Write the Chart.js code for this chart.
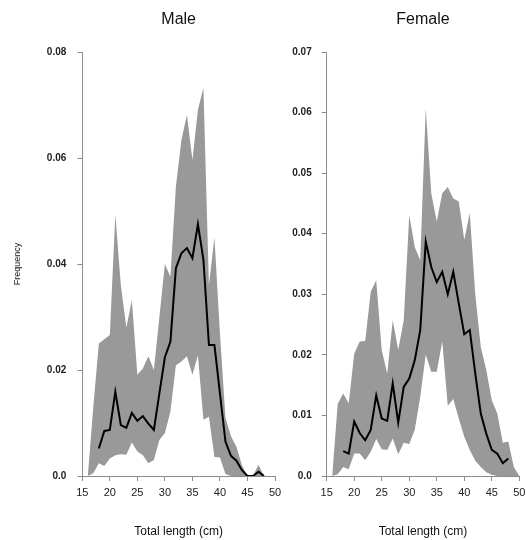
<!DOCTYPE html>
<html>
<head>
<meta charset="utf-8">
<script src="https://cdn.jsdelivr.net/npm/chart.js"></script>
<style>
  body { margin: 0; width: 526px; height: 540px; overflow: hidden; background: #fff; position: relative; }
  canvas { position: absolute; top: 0; }
  #maleChart { left: 0; }
  #femaleChart { left: 240px; }
</style>
</head>
<body>
<canvas id="maleChart" width="290" height="540"></canvas>
<canvas id="femaleChart" width="300" height="540"></canvas>
<script>
// total length (cm) for the shaded band and the mean line
const maleBandLen = [16, 17, 18, 19, 20, 21, 22, 23, 24, 25, 26, 27, 28, 29, 30, 31, 32,
    33, 34, 35, 36, 37, 38, 39, 40, 41, 42, 43, 44, 45, 46, 47, 48, 49];
const maleUpper = [0, 0.013, 0.025, 0.0258, 0.0266, 0.0494, 0.036, 0.028, 0.0332, 0.0191,
    0.0203, 0.0226, 0.020, 0.030, 0.040, 0.0376, 0.0546, 0.0634, 0.0681, 0.0596, 0.0691,
    0.0732, 0.036, 0.045, 0.027, 0.011, 0.0075, 0.0055, 0.002, 0, 0, 0.0021, 0, 0];
const maleLower = [0, 0.0005, 0.0024, 0.0019, 0.0033, 0.0039, 0.0041, 0.004, 0.0063, 0.0046,
    0.0039, 0.0024, 0.003, 0.0068, 0.0081, 0.0121, 0.0209, 0.0216, 0.0226, 0.0191, 0.0228,
    0.0106, 0.0112, 0.0036, 0.0035, 0.0004, 0, 0, 0, 0, 0, 0, 0, 0];
const maleMeanLen = [18, 19, 20, 21, 22, 23, 24, 25, 26, 27, 28, 29, 30, 31, 32, 33, 34,
    35, 36, 37, 38, 39, 40, 41, 42, 43, 44, 45, 46, 47, 48];
const maleMean = [0.0052, 0.0085, 0.0087, 0.0159, 0.0096, 0.0091, 0.0119, 0.0104, 0.0113,
    0.0099, 0.0087, 0.0156, 0.0224, 0.0253, 0.0392, 0.0420, 0.0430, 0.0411, 0.0475, 0.0408,
    0.0247, 0.0247, 0.0156, 0.0065, 0.0038, 0.0029, 0.0011, 0, 0, 0.0008, 0];

const femaleBandLen = [16, 17, 18, 19, 20, 21, 22, 23, 24, 25, 26, 27, 28, 29, 30, 31, 32,
    33, 34, 35, 36, 37, 38, 39, 40, 41, 42, 43, 44, 45, 46, 47, 48, 49, 50];
const femaleUpper = [0, 0.0119, 0.0136, 0.012, 0.0202, 0.0222, 0.0223, 0.0304, 0.0323,
    0.0208, 0.0169, 0.0257, 0.0208, 0.0257, 0.0431, 0.0378, 0.0356, 0.0607, 0.0467, 0.042,
    0.0467, 0.0477, 0.0458, 0.0453, 0.039, 0.0434, 0.030, 0.0213, 0.0175, 0.0125, 0.0103,
    0.0055, 0.0057, 0.0015, 0];
const femaleLower = [0, 0.0003, 0.0015, 0.0011, 0.0037, 0.0037, 0.0026, 0.004, 0.0061,
    0.0044, 0.0043, 0.0062, 0.0036, 0.0055, 0.0053, 0.0076, 0.0131, 0.020, 0.0172, 0.0172,
    0.0222, 0.0116, 0.0127, 0.0095, 0.0065, 0.0043, 0.0025, 0.0015, 0.0006, 0.0002, 0, 0,
    0, 0, 0];
const femaleMeanLen = [18, 19, 20, 21, 22, 23, 24, 25, 26, 27, 28, 29, 30, 31, 32, 33, 34,
    35, 36, 37, 38, 39, 40, 41, 42, 43, 44, 45, 46, 47, 48];
const femaleMean = [0.0041, 0.0037, 0.0090, 0.0071, 0.0059, 0.0076, 0.0133, 0.0095, 0.0091,
    0.0153, 0.0088, 0.0147, 0.0161, 0.0191, 0.0241, 0.0387, 0.0345, 0.0320, 0.0337, 0.0300,
    0.0337, 0.0285, 0.0234, 0.0241, 0.0169, 0.0103, 0.0070, 0.0043, 0.0037, 0.0021, 0.0029];

const xTicks = [15, 20, 25, 30, 35, 40, 45, 50];

const FONT = 'Liberation Sans, Arial, sans-serif';
const AXIS_GREY = '#8c8c8c';

function toPoints(xs, ys) {
    return xs.map((x, i) => ({ x: x, y: ys[i] }));
}

function createPanel(p) {
    const ctx = document.getElementById(p.canvasId).getContext('2d');
    new Chart(ctx, {
        type: 'line',
        data: {
            datasets: [
                {
                    data: toPoints(p.meanLen, p.mean),
                    borderColor: '#000',
                    borderWidth: 2,
                    pointRadius: 0,
                    fill: false,
                    tension: 0,
                },
                {
                    data: toPoints(p.bandLen, p.upper),
                    borderWidth: 0,
                    borderColor: 'rgba(0,0,0,0)',
                    backgroundColor: '#999999',
                    pointRadius: 0,
                    fill: '+1',
                    tension: 0,
                },
                {
                    data: toPoints(p.bandLen, p.lower),
                    borderWidth: 0,
                    borderColor: 'rgba(0,0,0,0)',
                    pointRadius: 0,
                    fill: false,
                    tension: 0,
                },
            ],
        },
        options: {
            responsive: false,
            animation: false,
            devicePixelRatio: 1,
            layout: { padding: { left: 0, right: p.padRight, top: 0, bottom: 0 } },
            plugins: {
                legend: { display: false },
                tooltip: { enabled: false },
                title: {
                    display: true,
                    text: p.title,
                    fullSize: false,
                    color: '#111',
                    font: { family: FONT, size: 16, weight: 'normal' },
                    padding: { top: 10, bottom: 22.8 },
                },
            },
            scales: {
                x: {
                    type: 'linear',
                    min: 15,
                    max: 50,
                    afterBuildTicks: (scale) => { scale.ticks = xTicks.map(v => ({ value: v })); },
                    ticks: {
                        color: '#222',
                        padding: 5,
                        maxRotation: 0,
                        font: { family: FONT, size: 11 },
                    },
                    grid: { drawOnChartArea: false, drawTicks: true, tickLength: 5, color: AXIS_GREY },
                    border: { display: true, color: AXIS_GREY, width: 1 },
                    title: {
                        display: true,
                        text: 'Total length (cm)',
                        color: '#111',
                        font: { family: FONT, size: 12 },
                        padding: { top: 0, bottom: 1 },
                    },
                    afterFit: (scale) => { scale.height = 64; },
                },
                y: {
                    min: 0,
                    max: p.yMax,
                    afterBuildTicks: (scale) => { scale.ticks = p.yTicks.map(v => ({ value: v })); },
                    ticks: {
                        color: '#222',
                        padding: p.tickPad,
                        font: { family: FONT, size: 10, weight: 'bold' },
                        callback: (value) => value === 0 ? '0.0' : value.toFixed(2),
                    },
                    grid: { drawOnChartArea: false, drawTicks: true, tickLength: 5, color: AXIS_GREY },
                    border: { display: true, color: AXIS_GREY, width: 1 },
                    title: {
                        display: p.yTitle !== '',
                        text: p.yTitle,
                        color: '#111',
                        font: { family: FONT, size: 9 },
                        padding: { top: 12, bottom: 0 },
                    },
                    afterFit: (scale) => { scale.width = p.axisLeft; },
                },
            },
        },
    });
}

createPanel({
    canvasId: 'maleChart',
    title: 'Male',
    bandLen: maleBandLen, upper: maleUpper, lower: maleLower,
    meanLen: maleMeanLen, mean: maleMean,
    yMax: 0.08,
    yTicks: [0, 0.02, 0.04, 0.06, 0.08],
    yTitle: 'Frequency',
    axisLeft: 82.3,
    padRight: 15,
    tickPad: 11,
});

createPanel({
    canvasId: 'femaleChart',
    title: 'Female',
    bandLen: femaleBandLen, upper: femaleUpper, lower: femaleLower,
    meanLen: femaleMeanLen, mean: femaleMean,
    yMax: 0.07,
    yTicks: [0, 0.01, 0.02, 0.03, 0.04, 0.05, 0.06, 0.07],
    yTitle: '',
    axisLeft: 86.7,
    padRight: 20.7,
    tickPad: 10,
});
</script>
</body>
</html>
